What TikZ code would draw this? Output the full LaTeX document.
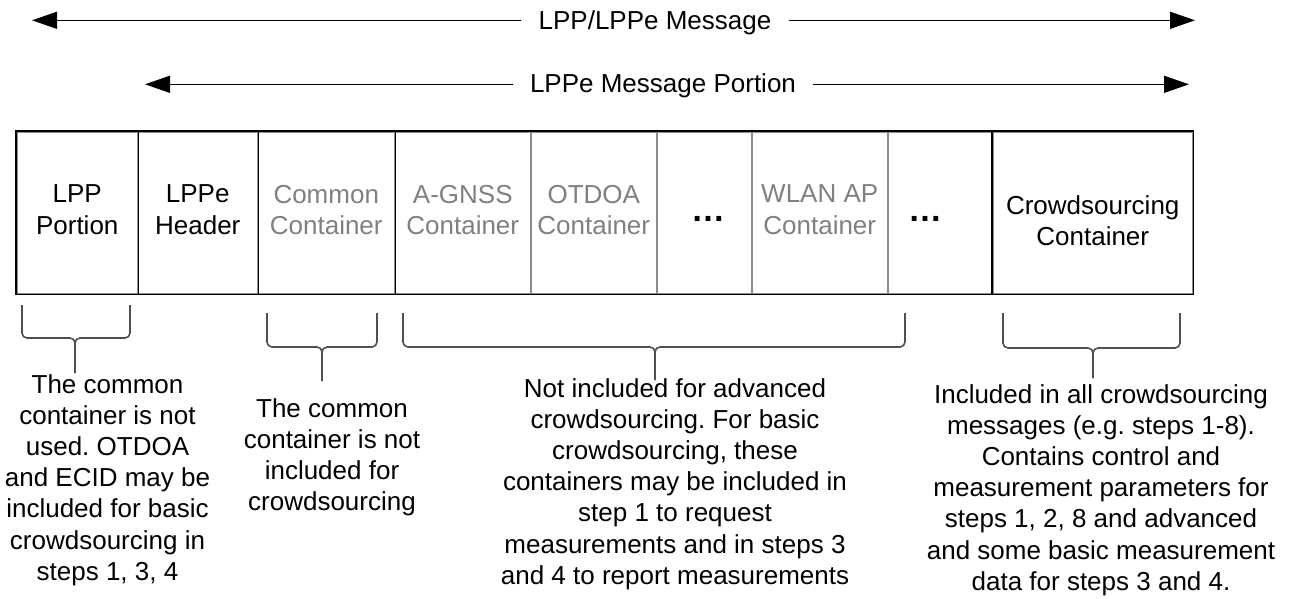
\documentclass[tikz,border=0pt]{standalone}
\usepackage{fontspec}
\setmainfont{Liberation Sans}
\usetikzlibrary{arrows.meta}
\definecolor{txtgrey}{RGB}{128,128,128}
\definecolor{linegrey}{RGB}{140,140,140}
\definecolor{bracegrey}{RGB}{80,80,80}
\frenchspacing
\begin{document}
\begin{tikzpicture}[x=1pt,y=-1pt,
  txt/.style={font=\fontsize{26}{31.2}\selectfont, align=center, inner sep=0pt},
  greytxt/.style={txt, text=txtgrey},
  dotstxt/.style={font=\fontsize{34}{40}\bfseries\selectfont, inner sep=0pt},
  cell/.style={draw=linegrey, line width=1.5pt, minimum height=162pt, inner sep=0pt, anchor=north west},
  frame/.style={draw=black, line width=1.5pt},
  arr/.style={draw=black, line width=1.3pt, -{Triangle[length=25pt,width=17pt]}},
  bracepath/.style={draw=bracegrey, line width=1.6pt, rounded corners=5pt}]
\useasboundingbox (0,0) rectangle (1291,598);

% arrows
\coordinate (a1L) at (32,20.3);
\coordinate (a1R) at (1195,20.3);
\node[txt, anchor=base, inner xsep=17pt] (m1) at (655,29) {LPP/LPPe Message};
\draw[arr] (m1.west |- a1L) -- (a1L);
\draw[arr] (m1.east |- a1R) -- (a1R);

\coordinate (a2L) at (145,84.3);
\coordinate (a2R) at (1189,84.3);
\node[txt, anchor=base, inner xsep=17pt] (m2) at (663,92.5) {LPPe Message Portion};
\draw[arr] (m2.west |- a2L) -- (a2L);
\draw[arr] (m2.east |- a2R) -- (a2R);

% cells
\node[cell, minimum width=121pt] (lpp) at (16,131) {};
\node[cell, minimum width=120pt] (hdr) at (137,131) {};
\node[cell, minimum width=137pt] (com) at (257,131) {};
\node[cell, minimum width=136pt] (gnss) at (394,131) {};
\node[cell, minimum width=126pt] (otdoa) at (530,131) {};
\node[cell, minimum width=95pt] (dA) at (656,131) {};
\node[cell, minimum width=136pt] (wlan) at (751,131) {};
\node[cell, minimum width=105pt] (dB) at (887,131) {};
\node[cell, minimum width=200pt] (crowd) at (992,131) {};

\draw[frame] (lpp.north west) rectangle (crowd.south east);
\draw[frame] (lpp.north east) -- (lpp.south east);
\draw[frame] (hdr.north east) -- (hdr.south east);
\draw[frame] (com.north east) -- (com.south east);
\draw[frame] (crowd.north west) -- (crowd.south west);

% cell texts
\node[txt, anchor=north] (lppT) at ([yshift=28pt]lpp.center) {LPP\\Portion};
\node[txt, anchor=north] (hdrT) at ([yshift=28pt]hdr.center) {LPPe\\Header};
\node[greytxt, anchor=north] (comT) at ([yshift=28pt]com.center) {Common\\Container};
\node[greytxt, anchor=north] (gnssT) at ([yshift=28pt]gnss.center) {A-GNSS\\Container};
\node[greytxt, anchor=north] (otdoaT) at ([yshift=28pt]otdoa.center) {OTDOA\\Container};
\node[greytxt, anchor=north] (wlanT) at ([yshift=28pt]wlan.center) {WLAN AP\\Container};
\node[txt, anchor=north] (crowdT) at ([yshift=17.5pt]crowd.center) {Crowdsourcing\\Container};
\node[dotstxt, anchor=base] (dAT) at (708,221) {…};
\node[dotstxt, anchor=base] (dBT) at (925,221) {…};

% braces
\draw[bracepath] (22,305) |- (75,338) -- (75,373);
\draw[bracepath] (130,305) |- (75,338) -- (75,373);
\draw[bracepath] (267,313) |- (322,347) -- (322,381);
\draw[bracepath] (377,313) |- (322,347) -- (322,381);
\draw[bracepath] (403,313) |- (655,347) -- (655,380);
\draw[bracepath] (905,313) |- (655,347) -- (655,380);
\draw[bracepath] (1003,313) |- (1093,348) -- (1093,378);
\draw[bracepath] (1180,313) |- (1093,348) -- (1093,378);

% notes
\node[txt, anchor=north] (n1) at (107.5,374) {The common\\container is not\\used. OTDOA\\and ECID may be\\included for basic\\crowdsourcing in\\steps 1, 3, 4};
\node[txt, anchor=north] (n2) at (332,398) {The common\\container is not\\included for\\crowdsourcing};
\node[txt, anchor=north] (n3) at (675,378) {Not included for advanced\\crowdsourcing. For basic\\crowdsourcing, these\\containers may be included in\\step 1 to request\\measurements and in steps 3\\and 4 to report measurements};
\node[txt, anchor=north] (n4) at (1101,384) {Included in all crowdsourcing\\messages (e.g. steps 1-8).\\Contains control and\\measurement parameters for\\steps 1, 2, 8 and advanced\\and some basic measurement\\data for steps 3 and 4.};
\end{tikzpicture}
\end{document}
